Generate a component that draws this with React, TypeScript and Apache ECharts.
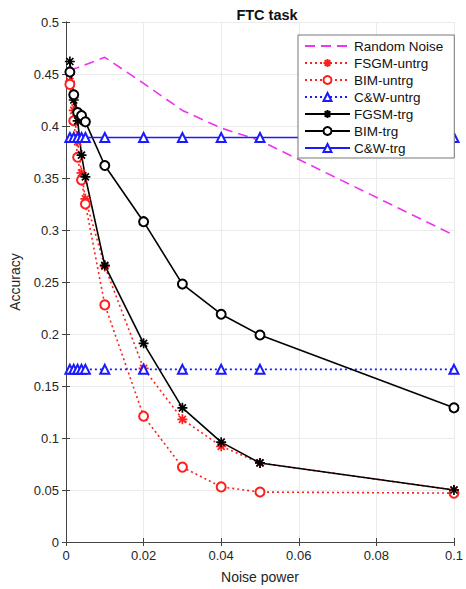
import React, { useEffect, useRef } from "react";
import * as echarts from "echarts";

const noisePower = [0.001, 0.002, 0.003, 0.004, 0.005, 0.01, 0.02, 0.03, 0.04, 0.05, 0.1];
const randomNoise = [0.453, 0.455, 0.456, 0.458, 0.459, 0.466, 0.441, 0.415, 0.398, 0.386, 0.295];
const fsgmUntrg = [0.443, 0.415, 0.385, 0.355, 0.33, 0.265, 0.167, 0.118, 0.092, 0.076, 0.05];
const bimUntrg = [0.44, 0.405, 0.37, 0.348, 0.325, 0.228, 0.121, 0.072, 0.053, 0.048, 0.047];
const cwUntrg = [0.166, 0.166, 0.166, 0.166, 0.166, 0.166, 0.166, 0.166, 0.166, 0.166, 0.166];
const fgsmTrg = [0.462, 0.425, 0.405, 0.372, 0.351, 0.266, 0.191, 0.129, 0.096, 0.076, 0.05];
const bimTrg = [0.452, 0.43, 0.413, 0.41, 0.404, 0.362, 0.308, 0.248, 0.219, 0.199, 0.129];
const cwTrg = [0.389, 0.389, 0.389, 0.389, 0.389, 0.389, 0.389, 0.389, 0.389, 0.389, 0.389];

const ASTERISK = "path://M5 0 L5 10 M0 5 L10 5 M1.5 1.5 L8.5 8.5 M1.5 8.5 L8.5 1.5";
const RED = "#ff1f1f";
const BLUE = "#1a1aff";
const MAGENTA = "#ee33ee";
const FONT = "Liberation Sans, Arial, Helvetica, sans-serif";

function pairs(ys: number[]) {
  return noisePower.map((x, i) => [x, ys[i]]);
}

export default function App() {
  const ref = useRef<HTMLDivElement>(null);
  useEffect(() => {
    document.body.style.margin = "0";
    const chart = echarts.init(ref.current!, null, { renderer: "svg" });
    const mk = (
      name: string,
      ys: number[],
      color: string,
      lineType: any,
      symbol: string,
      symbolSize: number
    ) => ({
      name,
      type: "line",
      data: pairs(ys),
      symbol,
      symbolSize,
      showSymbol: symbol !== "none",
      lineStyle: { color, width: 1.6, type: lineType },
      itemStyle: {
        color,
        borderColor: color,
        borderWidth: 1.7,
      },
      emphasis: { disabled: true },
    });
    const series = [
      mk("Random Noise", randomNoise, MAGENTA, [10, 6], "none", 0),
      mk("FSGM-untrg", fsgmUntrg, RED, [2, 3], ASTERISK, 10),
      mk("BIM-untrg", bimUntrg, RED, [2, 3], "emptyCircle", 9),
      mk("C&W-untrg", cwUntrg, BLUE, [2, 3], "emptyTriangle", 9),
      mk("FGSM-trg", fgsmTrg, "#000000", "solid", ASTERISK, 10),
      mk("BIM-trg", bimTrg, "#000000", "solid", "emptyCircle", 9),
      mk("C&W-trg", cwTrg, BLUE, "solid", "emptyTriangle", 9),
    ];
    const axisCommon = {
      axisLine: { show: true, lineStyle: { color: "#444", width: 1 } },
      axisTick: { show: true, inside: true, length: 4, lineStyle: { color: "#444" } },
    };
    const fmt = (v: number) => (v === 0 ? "0" : String(+v.toFixed(2)));
    chart.setOption({
      animation: false,
      backgroundColor: "#ffffff",
      title: {
        text: "FTC task",
        left: 262,
        textAlign: "center",
        top: 2,
        textStyle: { fontFamily: FONT, fontSize: 14.5, fontWeight: "bold", color: "#111" },
      },
      grid: { left: 66, right: 8, top: 22, bottom: 44, containLabel: false },
      legend: {
        orient: "vertical",
        left: 298,
        top: 35,
        width: 160,
        backgroundColor: "#ffffff",
        borderColor: "#777",
        borderWidth: 1,
        padding: [4, 11, 3, 6],
        itemWidth: 45,
        itemHeight: 10,
        itemGap: 3,
        align: "left",
        textStyle: { fontFamily: FONT, fontSize: 13.5, color: "#111", padding: [0, 0, 0, -1] },
        data: series.map((s) =>
          s.name === "Random Noise" ? { name: s.name, itemStyle: { opacity: 0 } } : s.name
        ),
      },
      xAxis: [
        {
          type: "value",
          min: 0,
          max: 0.1,
          interval: 0.02,
          name: "Noise power",
          nameLocation: "middle",
          nameGap: 28,
          nameTextStyle: { fontFamily: FONT, fontSize: 14, color: "#262626" },
          axisLabel: { fontFamily: FONT, fontSize: 13, color: "#262626", margin: 7, formatter: fmt },
          splitLine: { show: true, lineStyle: { color: "#ebebeb" } },
          ...axisCommon,
        },
        {
          type: "value",
          position: "top",
          min: 0,
          max: 0.1,
          interval: 0.02,
          axisLabel: { show: false },
          splitLine: { show: false },
          ...axisCommon,
        },
      ],
      yAxis: [
        {
          type: "value",
          min: 0,
          max: 0.5,
          interval: 0.05,
          name: "Accuracy",
          nameLocation: "middle",
          nameGap: 44,
          nameTextStyle: { fontFamily: FONT, fontSize: 14, color: "#262626" },
          axisLabel: { fontFamily: FONT, fontSize: 13, color: "#262626", margin: 7, formatter: fmt },
          splitLine: { show: true, lineStyle: { color: "#ebebeb" } },
          ...axisCommon,
        },
        {
          type: "value",
          position: "right",
          min: 0,
          max: 0.5,
          interval: 0.05,
          axisLabel: { show: false },
          splitLine: { show: false },
          ...axisCommon,
        },
      ],
      series,
    });
    return () => chart.dispose();
  }, []);
  return <div ref={ref} style={{ width: 466, height: 589 }} />;
}
